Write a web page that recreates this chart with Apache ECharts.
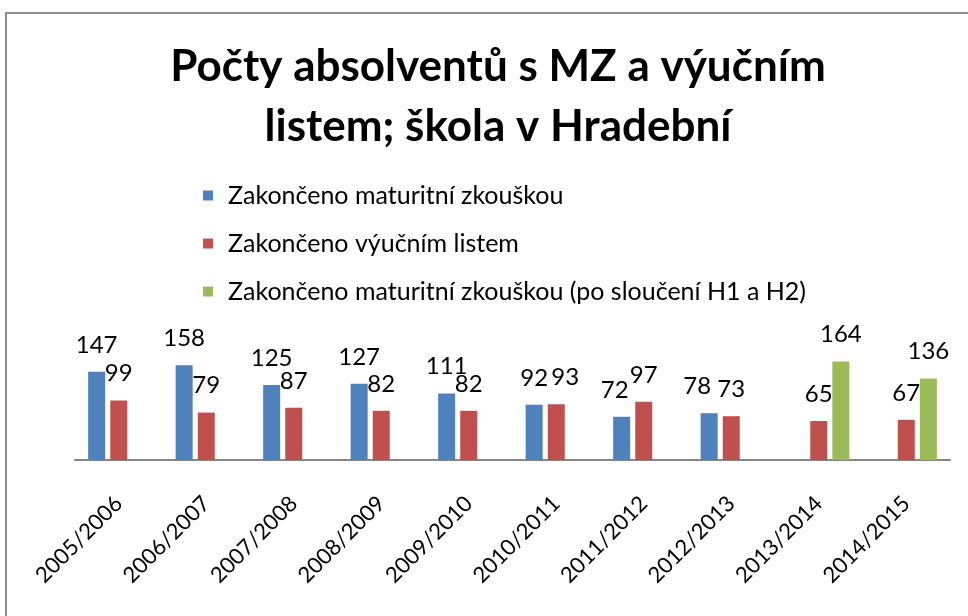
<!DOCTYPE html>
<html>
<head>
<meta charset="utf-8">
<script src="https://cdn.jsdelivr.net/npm/echarts@6/dist/echarts.min.js"></script>
<style>
  html, body { margin: 0; padding: 0; background: #fff; }
  #chart { width: 968px; height: 616px; }
</style>
</head>
<body>
<div id="chart"></div>
<script>
const years = ['2005/2006', '2006/2007', '2007/2008', '2008/2009', '2009/2010',
               '2010/2011', '2011/2012', '2012/2013', '2013/2014', '2014/2015'];
const maturita = [147, 158, 125, 127, 111, 92, 72, 78, null, null];
const vyucni = [99, 79, 87, 82, 82, 93, 97, 73, 65, 67];
const maturitaMerged = [null, null, null, null, null, null, null, null, 164, 136];

const names = [
    'Zakončeno maturitní zkouškou',
    'Zakončeno výučním listem',
    'Zakončeno maturitní zkouškou (po sloučení H1 a H2)'
];
const colors = ['#4F81BD', '#C0504D', '#9BBB59'];
const font = 'Lato, "Open Sans", sans-serif';

// Excel nudged a few labels sideways so neighbours don't collide
function barSeries(name, data, color, nudges) {
    nudges = nudges || {};
    return {
        name: name,
        type: 'bar',
        data: data.map((v, i) => nudges[i] !== undefined
            ? { value: v, label: { offset: [nudges[i], 0] } } : v),
        barWidth: 17,
        barGap: '30%',
        itemStyle: { color: color },
        label: {
            show: true,
            position: 'top',
            distance: 15,
            color: '#000',
            fontSize: 24,
            fontFamily: font
        }
    };
}

const chart = echarts.init(document.getElementById('chart'), null, { renderer: 'canvas' });
chart.setOption({
    animation: false,
    color: colors,
    graphic: [{
        type: 'rect',
        shape: { x: 6, y: 13, width: 1000, height: 700 },
        style: { fill: 'none', stroke: '#8c8c8c', lineWidth: 2 },
        silent: true
    }],
    title: {
        text: 'Počty absolventů s MZ a výučním\nlistem; škola v Hradební',
        left: 493,
        textAlign: 'center',
        top: 32,
        textStyle: {
            fontFamily: font,
            fontWeight: 'bold',
            fontSize: 44,
            lineHeight: 60,
            color: '#000'
        }
    },
    legend: {
        orient: 'vertical',
        left: 198,
        top: 178,
        itemWidth: 10,
        itemHeight: 10,
        itemGap: 23,
        icon: 'rect',
        data: names,
        textStyle: {
            fontFamily: font,
            fontSize: 25,
            color: '#000',
            padding: [0, 0, 0, 10]
        }
    },
    grid: { left: 75, right: 18, top: 340, bottom: 156 },
    xAxis: {
        type: 'category',
        data: years,
        axisLine: { lineStyle: { color: '#868686', width: 2 } },
        axisTick: { show: false },
        axisLabel: {
            rotate: 45,
            margin: 40,
            color: '#000',
            fontSize: 22,
            fontFamily: font
        }
    },
    yAxis: {
        type: 'value',
        min: 0,
        max: 200,
        show: false
    },
    series: [
        barSeries(names[0], maturita, colors[0], { 6: -7, 7: -12 }),
        barSeries(names[1], vyucni, colors[1], { 5: 9 }),
        barSeries(names[2], maturitaMerged, colors[2])
    ]
});
</script>
</body>
</html>
